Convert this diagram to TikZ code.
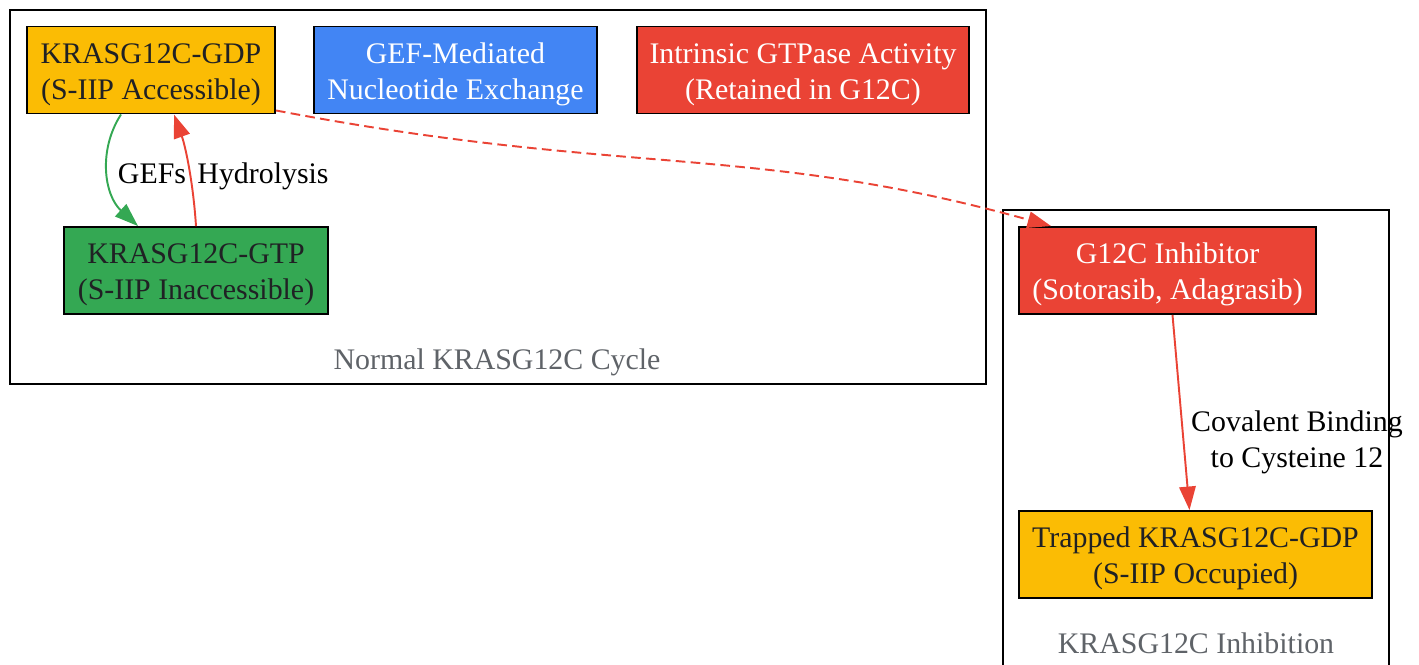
\documentclass[tikz,border=0pt]{standalone}
\usepackage{fontspec}
\setmainfont{Liberation Serif}
\usepackage{xcolor}
\usepackage{tikz}
\usetikzlibrary{calc}
\usetikzlibrary{arrows.meta}

\definecolor{kyellow}{HTML}{FBBC04}
\definecolor{kblue}{HTML}{4285F4}
\definecolor{kred}{HTML}{EA4335}
\definecolor{kgreen}{HTML}{34A853}
\definecolor{kgray}{HTML}{5F6368}
\definecolor{kdark}{HTML}{202124}

% text a little lower than the box centre
\newcommand{\lowtext}[1]{\raisebox{-2.2pt}[\height][\depth]{\begin{tabular}{@{}c@{}}#1\end{tabular}}}

\tikzset{
	box/.style={draw=black,line width=1.1pt,rectangle,inner sep=0pt,
		minimum height=1.74cm,font=\fontsize{17}{20.5}\selectfont},
	cluster/.style={draw=black,line width=1.1pt},
	clusterlabel/.style={text=kgray,font=\fontsize{17}{20.5}\selectfont},
	edgelabel/.style={text=black,font=\fontsize{17}{20.5}\selectfont},
	arr/.style={line width=1.1pt,-{Triangle[length=0.47cm,width=0.33cm]}}
}

\begin{document}
\begin{tikzpicture}[x=0.02cm,y=-0.02cm]
		\useasboundingbox (0,0) rectangle (1419,664);
		% clusters
		\draw[cluster] (10,10) rectangle (986,384);
		\node[clusterlabel] (cyclelabel) at (497,358) {\lowtext{Normal KRASG12C Cycle}};
		\draw[cluster] (1003,670) -- (1003,210) -- (1389,210) -- (1389,670);
		\node[clusterlabel] (inhiblabel) at (1196,642) {\lowtext{KRASG12C Inhibition}};
		% nodes
		\node[box,fill=kyellow,text=kdark,minimum width=4.96cm] (gdp) at (151,70) {\lowtext{KRASG12C-GDP\\(S-IIP Accessible)}};
		\node[box,fill=kblue,text=white,minimum width=5.66cm] (gef) at (455.5,70) {\lowtext{GEF-Mediated\\Nucleotide Exchange}};
		\node[box,fill=kred,text=white,minimum width=6.64cm] (gtpase) at (803,70) {\lowtext{Intrinsic GTPase Activity\\(Retained in G12C)}};
		\node[box,fill=kgreen,text=kdark,minimum width=5.28cm] (gtp) at (196,270.5) {\lowtext{KRASG12C-GTP\\(S-IIP Inaccessible)}};
		\node[box,fill=kred,text=white,minimum width=5.94cm] (inhib) at (1167.5,270.5) {\lowtext{G12C Inhibitor\\(Sotorasib, Adagrasib)}};
		\node[box,fill=kyellow,text=kdark,minimum width=7.06cm] (trapped) at (1195.5,554.5) {\lowtext{Trapped KRASG12C-GDP\\(S-IIP Occupied)}};
		% edges
		\draw[arr,kgreen] ($(gdp.south)+(-30,0)$) .. controls (98,150) and (104,195) .. ($(gtp.north)+(-58,0)$);
		\draw[arr,kred] (gtp.north) .. controls (193,180) and (185,145) .. ($(gdp.south)+(23,0)$);
		\node[edgelabel] (gefs) at (152,172) {\lowtext{GEFs}};
		\node[edgelabel] (hydro) at (263,172) {\lowtext{Hydrolysis}};
		\draw[arr,kred,dash pattern=on 5.5pt off 3pt] ($(gdp.south east)+(0,-4)$) .. controls (625,177) and (752,143) .. ($(inhib.north west)+(33,0)$);
		\draw[arr,kred] ($(inhib.south)+(5,0)$) -- ($(trapped.north)+(-6,0)$);
		\node[edgelabel] (covalent) at (1297,438) {\lowtext{Covalent Binding\\to Cysteine 12}};
	\end{tikzpicture}
\end{document}
